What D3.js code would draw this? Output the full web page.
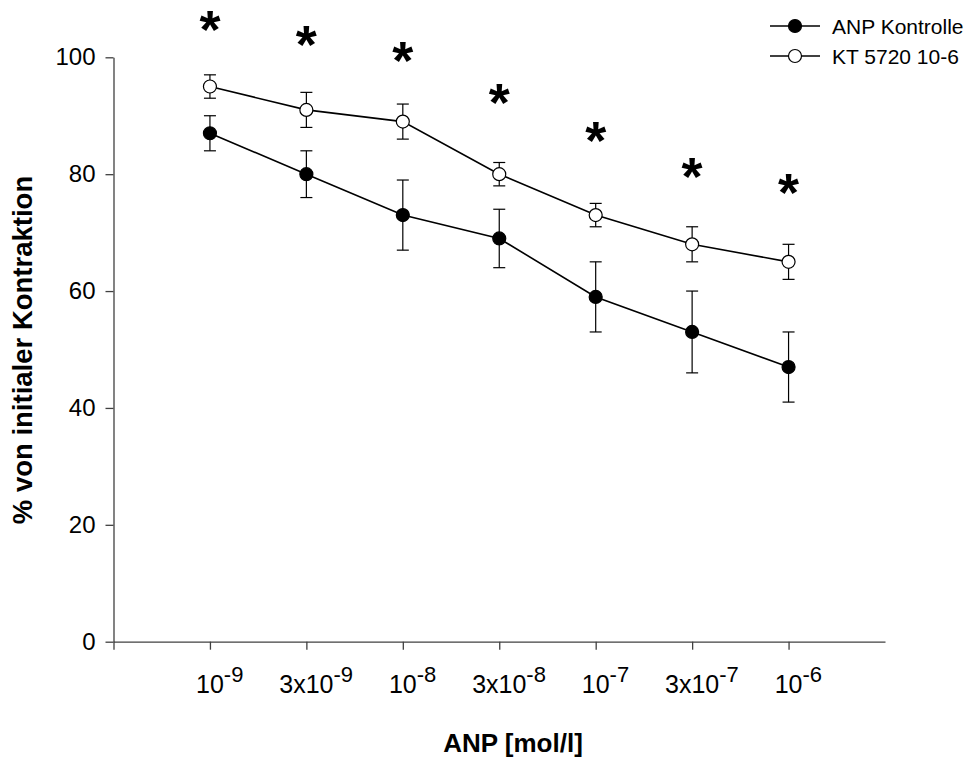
<!DOCTYPE html>
<html>
<head>
<meta charset="utf-8">
<script src="https://cdn.jsdelivr.net/npm/d3@7"></script>
<style>
  html, body { margin: 0; padding: 0; background: #fff; }
  svg { display: block; font-family: "Liberation Sans", Arial, sans-serif; }
</style>
</head>
<body>
<svg id="chart" width="968" height="760"></svg>
<script>
// Concentration steps (base text + exponent)
const doseBase = ["10", "3x10", "10", "3x10", "10", "3x10", "10"];
const doseExp  = ["-9", "-9", "-8", "-8", "-7", "-7", "-6"];

// Series: mean and SEM, % of initial contraction
const anpMean = [87, 80, 73, 69, 59, 53, 47];
const anpErr  = [3, 4, 6, 5, 6, 7, 6];
const ktMean  = [95, 91, 89, 80, 73, 68, 65];
const ktErr   = [2, 3, 3, 2, 2, 3, 3];

// Height (in % units) of the significance marks
const starLevel = [106, 103.3, 100.7, 93.5, 87, 80.7, 78];

const yTicks = [0, 20, 40, 60, 80, 100];
const seriesNames = ["ANP Kontrolle", "KT 5720 10-6"];

const svg = d3.select("#chart");

const x = d3.scaleLinear().domain([0, 8]).range([113.5, 885]);
const y = d3.scaleLinear().domain([0, 100]).range([641.7, 57.3]);
const axisColor = "#404040";

// Y axis
const gy = svg.append("g").attr("transform", `translate(${x(0)},0)`)
  .call(d3.axisLeft(y).tickValues(yTicks).tickSize(8).tickSizeOuter(0).tickPadding(10));
gy.selectAll("path, line").attr("stroke", axisColor).attr("stroke-width", 1.3);
gy.selectAll("text").attr("font-size", 24).attr("fill", "#000")
  .attr("font-family", "Liberation Sans, Arial, sans-serif");

// X axis
const gx = svg.append("g").attr("transform", `translate(0,${y(0)})`)
  .call(d3.axisBottom(x).tickValues(d3.range(0, 8)).tickSize(8).tickSizeOuter(0).tickFormat(""));
gx.selectAll("path, line").attr("stroke", axisColor).attr("stroke-width", 1.3);

// X tick labels: base centred on the tick, exponent as superscript
doseBase.forEach((b, i) => {
  const t = svg.append("text")
    .attr("y", 693)
    .attr("font-size", 25)
    .attr("fill", "#000");
  const base = t.append("tspan").text(b);
  t.append("tspan").attr("font-size", 22).attr("dy", -11.5).text(doseExp[i]);
  const w = base.node().getComputedTextLength();
  t.attr("x", x(i + 1) - w / 2);
});

// Axis titles
svg.append("text")
  .attr("x", 513).attr("y", 752)
  .attr("text-anchor", "middle")
  .attr("font-size", 26).attr("font-weight", "bold")
  .text("ANP [mol/l]");

svg.append("text")
  .attr("transform", "translate(32,350) rotate(-90)")
  .attr("text-anchor", "middle")
  .attr("font-size", 27.5).attr("font-weight", "bold")
  .text("% von initialer Kontraktion");

// Series drawing
const line = d3.line().x((d, i) => x(i + 1)).y(d => y(d));

function drawSeries(mean, err, filled) {
  const g = svg.append("g");
  g.append("path").datum(mean)
    .attr("d", line).attr("fill", "none")
    .attr("stroke", "#000").attr("stroke-width", 1.6);
  mean.forEach((m, i) => {
    const cx = x(i + 1), top = y(m + err[i]), bot = y(m - err[i]);
    g.append("line").attr("x1", cx).attr("x2", cx).attr("y1", top).attr("y2", bot)
      .attr("stroke", "#000").attr("stroke-width", 1.2);
    [top, bot].forEach(yy => g.append("line")
      .attr("x1", cx - 6).attr("x2", cx + 6).attr("y1", yy).attr("y2", yy)
      .attr("stroke", "#000").attr("stroke-width", 1.2));
  });
  g.selectAll("circle").data(mean).join("circle")
    .attr("cx", (d, i) => x(i + 1)).attr("cy", d => y(d)).attr("r", 6.5)
    .attr("fill", filled ? "#000" : "#fff")
    .attr("stroke", "#000").attr("stroke-width", 1.2);
}
drawSeries(anpMean, anpErr, true);
drawSeries(ktMean, ktErr, false);

// Significance marks
svg.append("g").selectAll("text").data(starLevel).join("text")
  .attr("x", (d, i) => x(i + 1))
  .attr("y", d => y(d))
  .attr("dy", "0.47em")
  .attr("text-anchor", "middle")
  .attr("font-size", 54).attr("font-weight", "bold")
  .text("*");

// Legend
const legend = svg.append("g");
seriesNames.forEach((name, i) => {
  const ly = 26 + i * 30;
  legend.append("line").attr("x1", 770).attr("x2", 820).attr("y1", ly).attr("y2", ly)
    .attr("stroke", "#000").attr("stroke-width", 1.6);
  legend.append("circle").attr("cx", 795).attr("cy", ly).attr("r", 6.5)
    .attr("fill", i === 0 ? "#000" : "#fff").attr("stroke", "#000").attr("stroke-width", 1.2);
  legend.append("text").attr("x", 832).attr("y", ly).attr("dy", "0.36em")
    .attr("font-size", 21).attr("fill", "#000").text(name);
});
</script>
</body>
</html>
